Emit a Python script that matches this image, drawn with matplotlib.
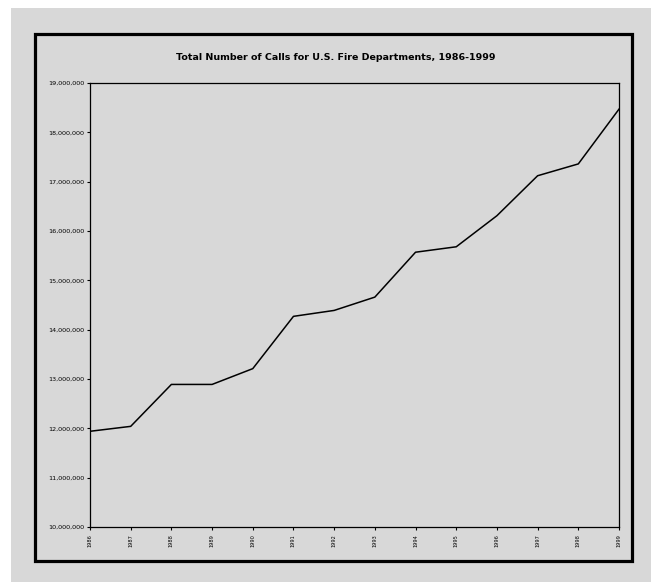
import matplotlib
matplotlib.use("Agg")
import matplotlib.pyplot as plt
from matplotlib.patches import Rectangle
from matplotlib.ticker import FuncFormatter

# Total fire department calls (in calls)
years = [1986, 1987, 1988, 1989, 1990, 1991, 1992,
         1993, 1994, 1995, 1996, 1997, 1998, 1999]
calls = [11940000, 12040000, 12890000, 12890000, 13210000, 14270000, 14390000,
         14660000, 15570000, 15680000, 16310000, 17120000, 17360000, 18470000]
y_ticks = [10000000, 11000000, 12000000, 13000000, 14000000,
           15000000, 16000000, 17000000, 18000000, 19000000]
title = "Total Number of Calls for U.S. Fire Departments, 1986-1999"

W, H = 651, 582
bg = "#d8d8d8"

fig = plt.figure(figsize=(W / 100, H / 100), dpi=100, facecolor="white")

# grey page area with a thick black frame
fig.patches.append(Rectangle((11 / W, 0), 1 - 11 / W, 1 - 8 / H,
                             transform=fig.transFigure, facecolor=bg,
                             edgecolor="none", zorder=-5))
fig.patches.append(Rectangle((35 / W, 1 - 561 / H), (632 - 35) / W, (561 - 34) / H,
                             transform=fig.transFigure, facecolor="none",
                             edgecolor="black", linewidth=2.3, zorder=1))

ax = fig.add_axes([90 / W, 1 - 527 / H, (619 - 90) / W, (527 - 83) / H])
ax.set_facecolor(bg)
ax.plot(years, calls, color="black", linewidth=1.1)

ax.set_xlim(years[0], years[-1])
ax.set_ylim(y_ticks[0], y_ticks[-1])
ax.set_xticks(years)
ax.set_xticklabels([str(y) for y in years], rotation=90, fontsize=3.6)
ax.set_yticks(y_ticks)
ax.yaxis.set_major_formatter(FuncFormatter(lambda v, p: f"{int(v):,}"))
ax.tick_params(axis="y", labelsize=4.6, length=2, width=0.8, pad=2)
ax.tick_params(axis="x", length=2, width=0.8, pad=3)
for s in ax.spines.values():
    s.set_linewidth(0.9)

fig.text(0.516, 1 - 57 / H, title, ha="center", va="center",
         fontsize=6.8, fontweight="bold")

fig.savefig("out.png", dpi=100, facecolor=fig.get_facecolor())
